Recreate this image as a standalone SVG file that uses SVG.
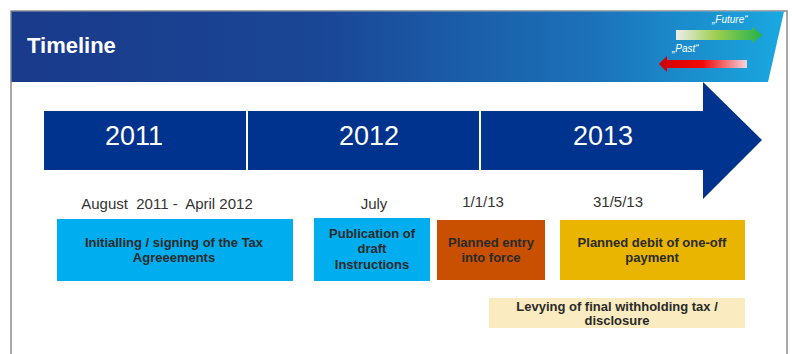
<svg xmlns="http://www.w3.org/2000/svg" width="792" height="354" viewBox="0 0 792 354">
  <defs>
    <linearGradient id="bannerGrad" x1="0" y1="0" x2="1" y2="0">
      <stop offset="0" stop-color="#1a3a8a"/>
      <stop offset="0.4" stop-color="#1a4696"/>
      <stop offset="0.75" stop-color="#1c71b9"/>
      <stop offset="1" stop-color="#1aa8e0"/>
    </linearGradient>
    <linearGradient id="futureGrad" x1="0" y1="0" x2="1" y2="0">
      <stop offset="0" stop-color="#eeeeee"/>
      <stop offset="0.45" stop-color="#9fcf50"/>
      <stop offset="1" stop-color="#22b14c"/>
    </linearGradient>
    <linearGradient id="pastGrad" x1="0" y1="0" x2="1" y2="0">
      <stop offset="0" stop-color="#d00000"/>
      <stop offset="0.5" stop-color="#f20a0a"/>
      <stop offset="1" stop-color="#f3d6dc"/>
    </linearGradient>
    <style>
      .year { font-family: "Liberation Sans", Arial, sans-serif; font-size: 27px; fill: #ffffff; text-anchor: middle; }
      .date { font-family: "Liberation Sans", Arial, sans-serif; font-size: 15px; fill: #333333; text-anchor: middle; }
      .box { font-family: "Liberation Sans", Arial, sans-serif; font-size: 13px; font-weight: bold; fill: #2a2a2a; text-anchor: middle; }
      .hint { font-family: "Liberation Sans", Arial, sans-serif; font-size: 10px; font-style: italic; fill: #ffffff; }
    </style>
  </defs>

  <rect x="0" y="0" width="792" height="354" fill="#ffffff"/>

  <!-- frame -->
  <path d="M11,360 L11,11 L787,11 L787,360" fill="none" stroke="#8a8a8a" stroke-width="1.5"/>

  <!-- header banner -->
  <g id="header">
    <polygon points="11.5,11.5 784,11.5 768,82 11.5,82" fill="url(#bannerGrad)"/>
    <text x="27" y="53" font-family="'Liberation Sans', Arial, sans-serif" font-size="22" font-weight="bold" fill="#ffffff">Timeline</text>
  </g>

  <g id="legend">
    <text class="hint" x="712" y="23">„Future“</text>
    <polygon points="676,30 752,30 752,27 763,35 752,43 752,40 676,40" fill="url(#futureGrad)"/>
    <text class="hint" x="672" y="52">„Past“</text>
    <polygon points="747,60 667,60 667,56 659,64 667,72 667,68 747,68" fill="url(#pastGrad)"/>
  </g>

  <!-- timeline arrow -->
  <g id="timeline">
    <polygon points="44,111 703,111 703,82 762,140 703,199 703,170 44,170" fill="#00338d"/>
    <line x1="247" y1="111" x2="247" y2="170" stroke="#ffffff" stroke-width="2"/>
    <line x1="480" y1="111" x2="480" y2="170" stroke="#ffffff" stroke-width="2"/>
    <text class="year" x="134" y="145">2011</text>
    <text class="year" x="369" y="145">2012</text>
    <text class="year" x="603" y="145">2013</text>
  </g>

  <g id="connectors"></g>

  <!-- dates -->
  <g id="dates">
    <text class="date" x="167" y="209" xml:space="preserve">August  2011 -  April 2012</text>
    <text class="date" x="374" y="209">July</text>
    <text class="date" x="483" y="207">1/1/13</text>
    <text class="date" x="618" y="207">31/5/13</text>
  </g>

  <g id="node-initialling">
    <rect x="57" y="219" width="236" height="62" fill="#00aeef"/>
    <text class="box" x="174" y="247">Initialling / signing of the Tax</text>
    <text class="box" x="174" y="262">Agreeements</text>
  </g>

  <g id="node-publication">
    <rect x="314" y="218" width="116" height="63" fill="#00aeef"/>
    <text class="box" x="372" y="238">Publication of</text>
    <text class="box" x="372" y="253">draft</text>
    <text class="box" x="372" y="269">Instructions</text>
  </g>

  <g id="node-entry">
    <rect x="437" y="220" width="108" height="60" fill="#c85000"/>
    <text class="box" x="491" y="247">Planned entry</text>
    <text class="box" x="491" y="262">into force</text>
  </g>

  <g id="node-debit">
    <rect x="560" y="220" width="185" height="60" fill="#e9b500"/>
    <text class="box" x="652" y="247">Planned debit of one-off</text>
    <text class="box" x="652" y="262">payment</text>
  </g>

  <g id="node-levying">
    <rect x="489" y="298" width="256" height="30" fill="#faecc0"/>
    <text class="box" x="617" y="310.5" font-size="12.5">Levying of final withholding tax /</text>
    <text class="box" x="617" y="325" font-size="12.5">disclosure</text>
  </g>
</svg>
